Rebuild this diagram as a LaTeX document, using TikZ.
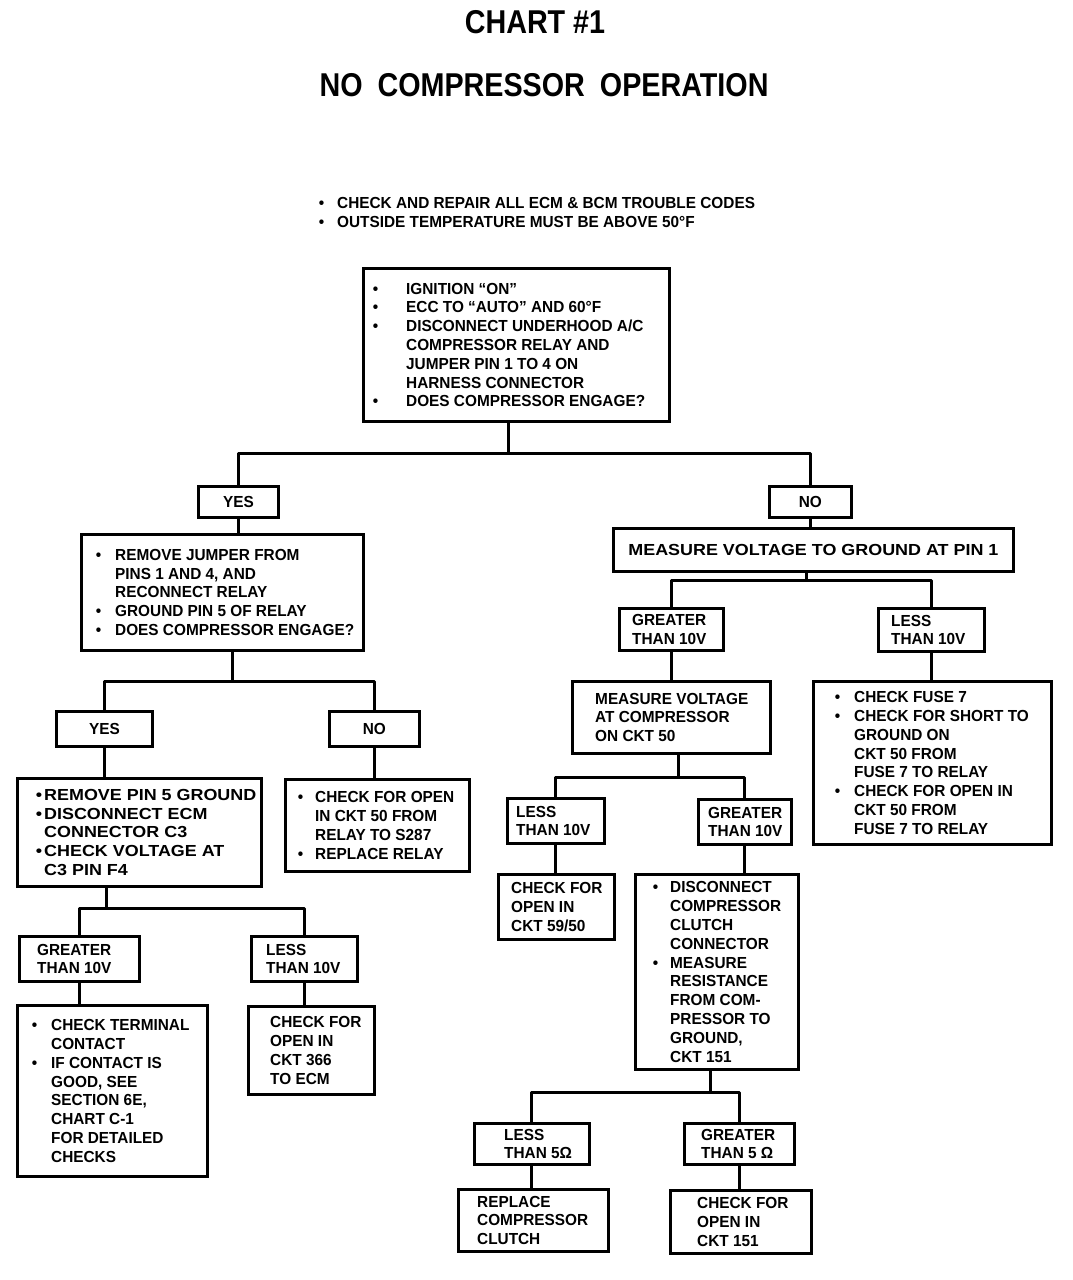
\documentclass[tikz,border=0pt]{standalone}
\usepackage{fontspec}
\setmainfont{Liberation Sans}
\newfontfamily\bodyfont{Liberation Sans}[FakeStretch=0.96]
\newfontfamily\widefont{Liberation Sans}[FakeStretch=1.12]
\newfontfamily\titlefont{Liberation Sans}[FakeStretch=0.87]
\usetikzlibrary{calc}
\tikzset{
  boxst/.style={draw, line width=2.8pt, rectangle, inner sep=0pt, fill=white},
  txt/.style={inner sep=0pt, align=left, font=\bodyfont\bfseries\fontsize{16}{18.8}\selectfont},
  ctxt/.style={inner sep=0pt, align=center, font=\bodyfont\bfseries\fontsize{16}{18.8}\selectfont},
  wide/.style={font=\widefont\bfseries\fontsize{16}{18.8}\selectfont},
  ttl/.style={inner sep=0pt, font=\titlefont\bfseries\fontsize{33}{38}\selectfont},
  conn/.style={line width=3pt, line join=round}
}
\newcommand\bul[1]{\llap{\textbullet\hspace{#1pt}}}
\newcommand\lbox[8][]{%
  \node[boxst, minimum width=#5pt, minimum height=#6pt, anchor=north west] (#2) at (#3,#4) {};
  \node[txt, anchor=west, #1] (#2t) at ($(#2.west)+(#7pt,0pt)$) {#8};}
\newcommand\cbox[7][]{%
  \node[boxst, minimum width=#5pt, minimum height=#6pt, anchor=north west] (#2) at (#3,#4) {};
  \node[ctxt, #1] (#2t) at (#2.center) {#7};}
\begin{document}
\begin{tikzpicture}[x=1pt,y=-1pt]
\useasboundingbox[fill=white] (0,0) rectangle (1072,1280);

% titles
\node[ttl] (title) at (535,22) {CHART \#1};
\node[ttl] (sub) at (544,85) {NO\hspace{7pt} COMPRESSOR\hspace{7pt} OPERATION};
\node[txt, anchor=west] (intro) at (337,212.5) {\bul{13}CHECK AND REPAIR ALL ECM \& BCM TROUBLE CODES\\\bul{13}OUTSIDE TEMPERATURE MUST BE ABOVE 50°F};

% boxes
\lbox{b1}{362}{267}{306}{153}{44}{\bul{28}IGNITION “ON”\\\bul{28}ECC TO “AUTO” AND 60°F\\\bul{28}DISCONNECT UNDERHOOD A/C\\COMPRESSOR RELAY AND\\JUMPER PIN 1 TO 4 ON\\HARNESS CONNECTOR\\\bul{28}DOES COMPRESSOR ENGAGE?}
\cbox{yes1}{197}{485}{80}{31}{YES}
\cbox{no1}{768}{485}{82}{31}{NO}
\lbox{b2}{80}{533}{282}{116}{35}{\bul{14}REMOVE JUMPER FROM\\PINS 1 AND 4, AND\\RECONNECT RELAY\\\bul{14}GROUND PIN 5 OF RELAY\\\bul{14}DOES COMPRESSOR ENGAGE?}
\cbox[wide]{b3}{612}{527}{400}{43}{MEASURE VOLTAGE TO GROUND AT PIN 1}
\cbox{yes2}{55}{710}{96}{35}{YES}
\cbox{no2}{328}{710}{90}{35}{NO}
\lbox[wide]{b4}{16}{777}{244}{108}{28}{\bul{2}REMOVE PIN 5 GROUND\\\bul{2}DISCONNECT ECM\\CONNECTOR C3\\\bul{2}CHECK VOLTAGE AT\\C3 PIN F4}
\lbox{b5}{284}{778}{184}{92}{31}{\bul{12}CHECK FOR OPEN\\IN CKT 50 FROM\\RELAY TO S287\\\bul{12}REPLACE RELAY}
\lbox{gt3}{18}{935}{120}{45}{19}{GREATER\\THAN 10V}
\lbox{lt3}{250}{935}{106}{45}{16}{LESS\\THAN 10V}
\lbox{b6}{16}{1004}{190}{171}{35}{\bul{14}CHECK TERMINAL\\CONTACT\\\bul{14}IF CONTACT IS\\GOOD, SEE\\SECTION 6E,\\CHART C-1\\FOR DETAILED\\CHECKS}
\lbox{b7}{247}{1005}{126}{88}{23}{CHECK FOR\\OPEN IN\\CKT 366\\TO ECM}
\lbox{gt1}{618}{607}{104}{42}{14}{GREATER\\THAN 10V}
\lbox{lt1}{877}{607}{106}{43}{14}{LESS\\THAN 10V}
\lbox{b8}{571}{680}{198}{72}{24}{MEASURE VOLTAGE\\AT COMPRESSOR\\ON CKT 50}
\lbox{b9}{812}{680}{238}{163}{42}{\bul{14}CHECK FUSE 7\\\bul{14}CHECK FOR SHORT TO\\GROUND ON\\CKT 50 FROM\\FUSE 7 TO RELAY\\\bul{14}CHECK FOR OPEN IN\\CKT 50 FROM\\FUSE 7 TO RELAY}
\lbox{lt2}{506}{797}{97}{45}{10}{LESS\\THAN 10V}
\lbox{gt2}{697}{798}{93}{45}{11}{GREATER\\THAN 10V}
\lbox{b10}{497}{873}{116}{65}{14}{CHECK FOR\\OPEN IN\\CKT 59/50}
\lbox{b11}{634}{873}{163}{195}{36}{\bul{12}DISCONNECT\\COMPRESSOR\\CLUTCH\\CONNECTOR\\\bul{12}MEASURE\\RESISTANCE\\FROM COM-\\PRESSOR TO\\GROUND,\\CKT 151}
\lbox{lt4}{473}{1122}{115}{41}{31}{LESS\\THAN 5Ω}
\lbox{gt4}{683}{1122}{110}{41}{18}{GREATER\\THAN 5 Ω}
\lbox{b12}{457}{1188}{150}{62}{20}{REPLACE\\COMPRESSOR\\CLUTCH}
\lbox{b13}{669}{1189}{141}{63}{28}{CHECK FOR\\OPEN IN\\CKT 151}

% junction coordinates
\coordinate (j1) at (508,453);
\coordinate (j2) at (232,681);
\coordinate (j3) at (106,908);
\coordinate (j4) at (806,580);
\coordinate (j5) at (678,777);
\coordinate (j6) at (710,1092);

% connectors
\draw[conn] (j1 |- b1.south) -- (j1);
\draw[conn] (yes1.north) |- (j1) -| (no1.north);
\draw[conn] (yes1.south) -- (yes1.south |- b2.north);
\draw[conn] (no1.south) -- (no1.south |- b3.north);

\draw[conn] (j2 |- b2.south) -- (j2);
\draw[conn] (yes2.north) |- (j2) -| (no2.north);
\draw[conn] (yes2.south) -- (yes2.south |- b4.north);
\draw[conn] (no2.south) -- (no2.south |- b5.north);

\draw[conn] (j3 |- b4.south) -- (j3);
\draw[conn] (gt3.north) |- (j3) -| (lt3.north);
\draw[conn] (gt3.south) -- (gt3.south |- b6.north);
\draw[conn] (lt3.south) -- (lt3.south |- b7.north);

\draw[conn] (j4 |- b3.south) -- (j4);
\draw[conn] (gt1.north) |- (j4) -| (lt1.north);
\draw[conn] (gt1.south) -- (gt1.south |- b8.north);
\draw[conn] (lt1.south) -- (lt1.south |- b9.north);

\draw[conn] (j5 |- b8.south) -- (j5);
\draw[conn] (lt2.north) |- (j5) -| (gt2.north);
\draw[conn] (lt2.south) -- (lt2.south |- b10.north);
\draw[conn] (gt2.south) -- (gt2.south |- b11.north);

\draw[conn] (j6 |- b11.south) -- (j6);
\draw[conn] (lt4.north) |- (j6) -| (gt4.north);
\draw[conn] (lt4.south) -- (lt4.south |- b12.north);
\draw[conn] (gt4.south) -- (gt4.south |- b13.north);
\end{tikzpicture}
\end{document}
